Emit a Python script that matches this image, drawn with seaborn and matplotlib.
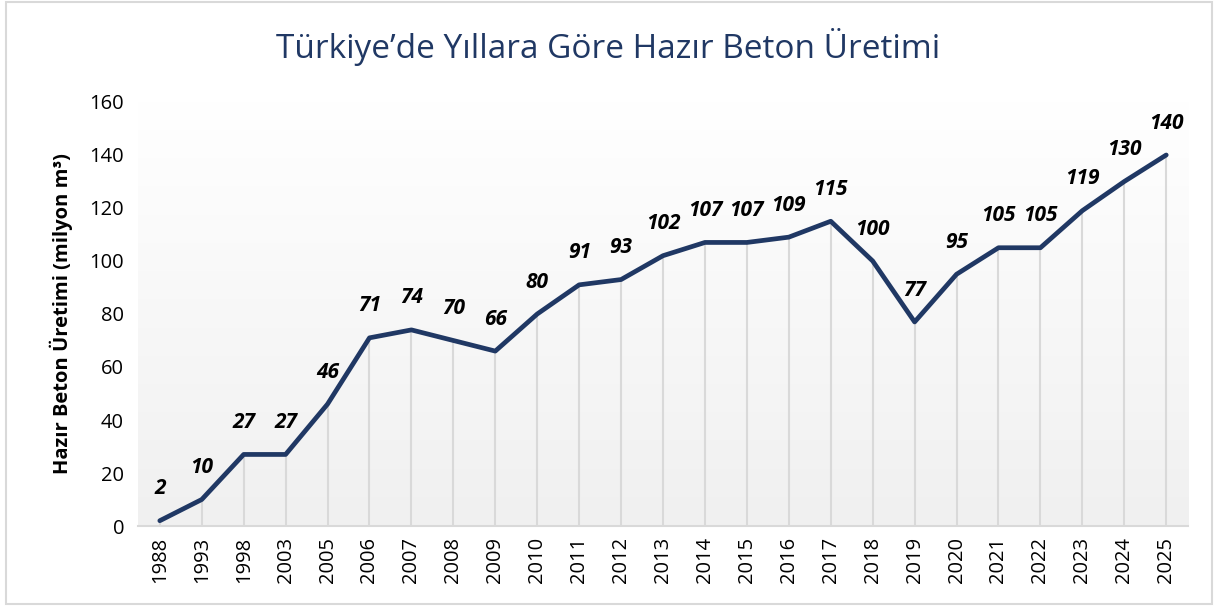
import numpy as np
import pandas as pd
import matplotlib.pyplot as plt
import seaborn as sns
from matplotlib.patches import Rectangle
from matplotlib.colors import LinearSegmentedColormap

# data
years = ['1988', '1993', '1998', '2003', '2005', '2006', '2007', '2008', '2009',
         '2010', '2011', '2012', '2013', '2014', '2015', '2016', '2017', '2018',
         '2019', '2020', '2021', '2022', '2023', '2024', '2025']
production = [2, 10, 27, 27, 46, 71, 74, 70, 66, 80, 91, 93, 102, 107, 107, 109,
              115, 100, 77, 95, 105, 105, 119, 130, 140]
yticks = [0, 20, 40, 60, 80, 100, 120, 140, 160]

df = pd.DataFrame({'Yıl': years, 'Üretim': production})

sns.set_theme(style='white')
plt.rcParams['font.family'] = ['Open Sans', 'DejaVu Sans']

navy = '#203864'
grey_line = '#d9d9d9'

fig = plt.figure(figsize=(12.17, 6.10), dpi=100)
ax = fig.add_axes([0.1134, 0.1377, 0.8628, 0.6951])

n = len(years)
x0, x1 = -0.52, n - 1 + 0.52
ax.set_xlim(x0, x1)
ax.set_ylim(0, 160)

# gradient background: white at top, light grey at bottom
cmap = LinearSegmentedColormap.from_list('bg', ['#ffffff', '#f0f0f0'])
grad = np.linspace(0, 1, 256).reshape(-1, 1)
ax.imshow(grad, cmap=cmap, aspect='auto', origin='upper',
          extent=[x0, x1, 0, 160], zorder=0)

# drop lines from each point to the axis
ax.vlines(range(n), 0, df['Üretim'], color=grey_line, lw=1.5, zorder=1)

sns.lineplot(data=df, x='Yıl', y='Üretim', ax=ax, color=navy, lw=3.4,
             sort=False, zorder=3)

for i, v in enumerate(production):
    ax.annotate(str(v), (i, v), xytext=(0, 23), textcoords='offset points',
                ha='center', va='center', fontsize=15, fontweight='bold',
                fontstyle='italic', color='black', zorder=4)

fig.text(0.5, 0.923, 'Türkiye’de Yıllara Göre Hazır Beton Üretimi',
         ha='center', va='center', fontsize=24, color=navy)

ax.set_xlabel('')
ax.set_ylabel('Hazır Beton Üretimi (milyon m³)', fontsize=14.5,
              fontweight='bold', color='black', labelpad=12)
ax.set_yticks(yticks)
ax.set_xticks(range(n))
ax.set_xticklabels(years, rotation=90)
ax.tick_params(axis='y', labelsize=14.5, length=0, pad=10, colors='black')
ax.tick_params(axis='x', labelsize=14.5, length=0, pad=8, colors='black')

for s in ['left', 'top', 'right']:
    ax.spines[s].set_visible(False)
ax.spines['bottom'].set_color(grey_line)
ax.spines['bottom'].set_linewidth(1.5)
ax.spines['bottom'].set_zorder(2)
ax.grid(False)

# outer chart border
fig.patches.append(Rectangle((0.005, 0.01), 0.991, 0.986, transform=fig.transFigure,
                             fill=False, edgecolor=grey_line, lw=1.5))

fig.savefig('out.png', dpi=100)
